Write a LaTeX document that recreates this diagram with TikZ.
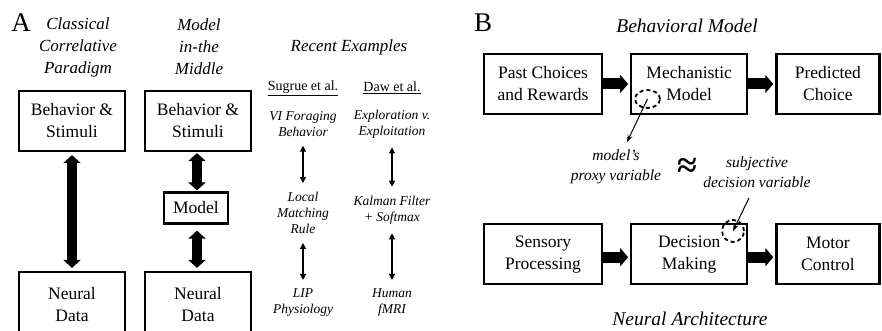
\documentclass[tikz,border=0pt]{standalone}
\usepackage{fontspec}
\setmainfont{Liberation Serif}
\usepackage{tikz}
\usetikzlibrary{arrows.meta, positioning, shapes.geometric}
\newcommand{\fsz}[2]{\fontsize{#1}{#2}\selectfont}
\tikzset{
  fbox/.style={draw, line width=2.2pt, align=center, inner sep=0pt,
               font=\fsz{17.5}{22}},
  hdr/.style={align=center, inner sep=0pt, font=\fsz{17}{22}\itshape},
  ttl/.style={inner sep=0pt, font=\fsz{19.5}{22}\itshape},
  plab/.style={inner sep=0pt, font=\fsz{27}{27}},
  exlab/.style={align=center, inner sep=0pt, font=\fsz{13.5}{16}\itshape},
  exref/.style={inner sep=0pt, font=\fsz{14}{16}},
  note/.style={align=center, inner sep=0pt, font=\fsz{15.5}{20}\itshape},
  bigarr/.style={{Triangle[length=8pt,width=17pt]}-{Triangle[length=8pt,width=17pt]},
                 line width=10pt},
  fwdarr/.style={-{Triangle[length=8pt,width=18pt]}, line width=11pt},
  tarr/.style={{Triangle[length=6pt,width=6pt]}-{Triangle[length=6pt,width=6pt]},
               line width=1.3pt, shorten <=9pt, shorten >=9pt},
  parr/.style={-{Stealth[length=7pt,width=5pt]}, line width=1pt},
  dcirc/.style={draw, ellipse, line width=1.8pt, dash pattern=on 4pt off 3pt,
                inner sep=0pt},
}

\begin{document}
\begin{tikzpicture}[x=1pt, y=-1pt]
\useasboundingbox (0,0) rectangle (882,331);
% ---- panel A: headers ----
\node[plab] (lA) at (21,23) {A};
\node[hdr] (hclass) at (78,47) {Classical\\Correlative\\Paradigm};
\node[hdr] (hmodel) at (199,47) {Model\\in-the\\Middle};
\node[hdr] (hrecent) at (349,47) {Recent Examples};
% ---- panel A: boxes ----
\node[fbox, minimum width=106pt, minimum height=60pt] (bs1) at (72,121) {Behavior \&\\Stimuli};
\node[fbox, minimum width=106pt, minimum height=66pt] (nd1) at (72,305) {Neural\\Data};
\node[fbox, minimum width=106pt, minimum height=60pt] (bs2) at (198,121) {Behavior \&\\Stimuli};
\node[fbox, minimum width=64pt, minimum height=31pt] (mdl) at (196,208) {Model};
\node[fbox, minimum width=106pt, minimum height=66pt] (nd2) at (198,305) {Neural\\Data};
\draw[bigarr, shorten <=3pt, shorten >=3pt] (bs1) -- (nd1);
\draw[bigarr, shorten <=1pt, shorten >=1pt] (bs2.south -| 197,0) -- (mdl.north -| 197,0);
\draw[bigarr, shorten <=6pt, shorten >=3pt] (mdl.south -| 197,0) -- (nd2.north -| 197,0);
% ---- panel A: recent examples ----
\node[exref] (sug) at (303,88) {\underline{Sugrue et al.}};
\node[exref] (daw) at (392,88) {\underline{Daw et al.}};
\node[exlab] (vi) at (303,124) {VI Foraging\\Behavior};
\node[exlab] (lmr) at (303,213) {Local\\Matching\\Rule};
\node[exlab] (lip) at (303,303) {LIP\\Physiology};
\node[exlab] (expl) at (392,124) {Exploration v.\\Exploitation};
\node[exlab] (kal) at (392,210) {Kalman Filter\\+ Softmax};
\node[exlab] (hum) at (392,303) {Human\\fMRI};
\draw[tarr] (vi) -- (lmr);
\draw[tarr] (lmr) -- (lip);
\draw[tarr] (expl) -- (kal);
\draw[tarr] (kal) -- (hum);
% ---- panel B: top row ----
\node[plab] (lB) at (483,23) {B};
\node[ttl] (hbeh) at (687,26) {Behavioral Model};
\node[fbox, minimum width=118pt, minimum height=60pt] (past) at (543,84) {Past Choices\\and Rewards};
\node[fbox, minimum width=116pt, minimum height=60pt, right=27pt of past] (mech) {Mechanistic\\Model};
\node[fbox, minimum width=103pt, minimum height=60pt, right=27pt of mech] (pred) {Predicted\\Choice};
\draw[fwdarr, shorten >=2pt] (past) -- (mech);
\draw[fwdarr, shorten >=2pt] (mech) -- (pred);
% ---- panel B: bottom row ----
\node[fbox, minimum width=118pt, minimum height=60pt, below=108pt of past] (sens) {Sensory\\Processing};
\node[fbox, minimum width=116pt, minimum height=60pt, right=27pt of sens] (dec) {Decision\\Making};
\node[fbox, minimum width=103pt, minimum height=60pt, right=27pt of dec] (mot) {Motor\\Control};
\draw[fwdarr, shorten >=2pt] ([yshift=-3pt]sens.east) -- ([yshift=-3pt]dec.west);
\draw[fwdarr, shorten >=2pt] ([yshift=-3pt]dec.east) -- ([yshift=-3pt]mot.west);
\node[ttl] (hneu) at (690,319) {Neural Architecture};
% ---- panel B: proxy vs decision variable ----
\node[dcirc, minimum width=25pt, minimum height=18pt] (proxy) at (647.5,99) {};
\node[dcirc, minimum width=22pt, minimum height=22pt] (subj) at (733,231) {};
\node[note] (mp) at (616,167) {model's\\proxy variable};
\node[inner sep=0pt, font=\fsz{36}{36}\bfseries] (apx) at (687,168) {≈};
\node[note] (sdv) at (757,172) {subjective\\decision variable};
\coordinate (mptip) at (627,142);
\coordinate (sdvtail) at (749,198);
\draw[parr] (proxy.center) -- (mptip);
\draw[parr] (sdvtail) -- (subj.center);
\end{tikzpicture}
\end{document}
